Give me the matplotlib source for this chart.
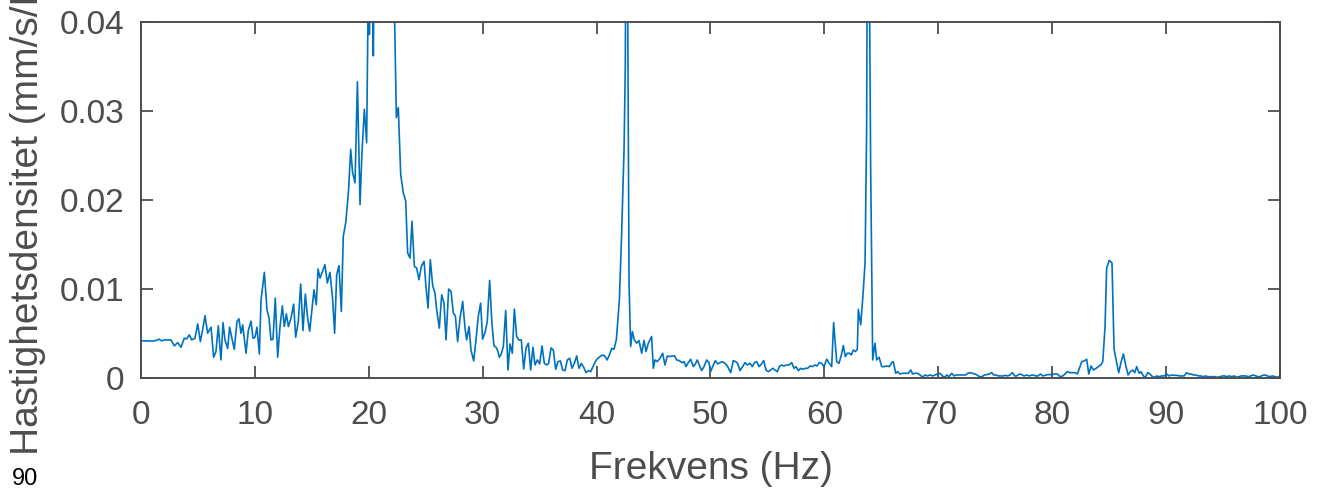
import numpy as np
import matplotlib.pyplot as plt
import matplotlib as mp

# spectrum (Hz, mm/s/Hz); points above 0.04 are clipped by the axes
freq_hz = [
    0.00, 0.40, 0.80, 1.17, 1.46, 1.61, 1.81, 2.05, 2.63, 2.93, 3.22, 3.51, 3.80, 4.01, 4.24, 4.45,
    4.74, 4.98, 5.21, 5.41, 5.62, 5.85, 6.15, 6.38, 6.58, 6.79, 7.02, 7.20, 7.37, 7.61, 7.78, 7.96,
    8.19, 8.43, 8.60, 8.78, 8.93, 9.22, 9.42, 9.66, 9.83, 10.01, 10.18, 10.39, 10.54, 10.83, 11.06,
    11.24, 11.41, 11.59, 11.79, 12.00, 12.20, 12.41, 12.58, 12.76, 12.94, 13.17, 13.40, 13.58, 13.81,
    14.02, 14.22, 14.43, 14.63, 14.81, 15.01, 15.19, 15.39, 15.54,
    15.72, 16.15, 16.36, 16.59, 16.83, 17.00, 17.18, 17.38, 17.59, 17.76, 17.97, 18.21, 18.41, 18.58,
    18.79, 19.00, 19.23, 19.40, 19.61, 19.81,
    19.97, 20.05, 20.20, 20.40, 20.60, 20.80, 21.00, 21.20, 21.40, 21.60, 21.80, 22.00, 22.20,
    22.42, 22.59, 22.80, 23.03, 23.24, 23.41, 23.62, 23.79, 24.00, 24.20, 24.41, 24.61, 24.85, 25.02,
    25.20, 25.40, 25.61, 25.81, 25.96, 26.19, 26.40, 26.60, 26.78, 27.01, 27.22, 27.42, 27.60, 27.80,
    28.01, 28.24, 28.45, 28.59, 28.80, 28.97, 29.21, 29.41, 29.61, 29.82, 29.99, 30.23, 30.40, 30.61,
    30.81, 30.99, 31.17, 31.34, 31.46, 31.63, 31.81, 32.02, 32.22, 32.40, 32.60, 32.78, 32.98, 33.16,
    33.39, 33.60, 33.80, 34.01, 34.21, 34.41, 34.59, 34.80, 35.00, 35.21, 35.41, 35.62, 35.79, 36.00,
    36.20, 36.41, 36.61, 36.82, 37.02, 37.23, 37.43, 37.64, 37.84, 38.05, 38.25, 38.46, 38.66, 38.87,
    39.07, 39.28, 39.48, 39.69, 39.89, 40.10, 40.30, 40.51, 40.71, 40.92, 41.12, 41.33, 41.53, 41.74,
    42.00, 42.20, 42.41, 42.52, 42.62, 42.70, 42.85, 42.99, 43.14, 43.31, 43.52, 43.72,
    43.96, 44.16, 44.34, 44.54, 44.83, 44.98, 45.13, 45.33, 45.57, 45.80, 46.00, 46.21, 46.44, 46.65,
    46.85, 47.03, 47.26, 47.50, 47.67, 47.85, 48.05, 48.26, 48.49, 48.67, 48.84, 49.02, 49.22, 49.43,
    49.66, 49.87, 50.01, 50.25, 50.42, 50.63, 50.83, 51.04, 51.27, 51.48, 51.77, 52.00, 52.21, 52.38,
    52.59, 52.82, 53.03, 53.23, 53.47, 53.67, 53.85, 54.05, 54.26, 54.46, 54.67, 54.87, 55.08, 55.28,
    55.46, 55.66, 55.87, 56.04, 56.25, 56.45, 56.69, 56.89, 57.13, 57.33, 57.51, 57.71, 57.92, 58.12,
    58.33, 58.53, 58.74, 58.94, 59.15, 59.35, 59.56, 59.76, 59.96, 60.20, 60.43, 60.64, 60.81, 61.08,
    61.28, 61.49, 61.66, 61.84, 62.01, 62.19, 62.36, 62.54, 62.72, 62.89,
    62.98, 63.19, 63.38, 63.57, 63.71, 63.82, 63.95, 64.06, 64.24, 64.44, 64.59, 64.80, 65.03, 65.26,
    65.47, 65.70, 65.91, 66.05, 66.26, 66.43, 66.64, 66.84, 67.08, 67.37, 67.58, 67.75, 67.96, 68.16,
    68.40, 68.63, 68.83, 69.04, 69.27, 69.51, 69.71, 69.92, 70.15, 70.36, 70.56, 70.74, 70.94, 71.18,
    71.38, 71.56, 71.76, 71.97, 72.20, 72.41, 72.58, 72.79, 72.99, 73.20, 73.40, 73.61, 73.84, 74.04,
    74.25, 74.48, 74.69, 74.86, 75.07, 75.27, 75.48, 75.71, 75.89, 76.09, 76.30, 76.50, 76.71, 76.88,
    77.12, 77.32, 77.53, 77.76, 77.97, 78.14, 78.35, 78.55, 78.76, 78.96, 79.17, 79.37, 79.58, 79.81,
    80.01, 80.25, 80.45,
    80.69, 80.92, 81.13, 81.33, 81.57, 81.80, 82.01, 82.21, 82.39, 82.59, 82.80, 83.03, 83.21, 83.41,
    83.62, 83.85, 84.06, 84.26, 84.44, 84.64, 84.78, 85.01, 85.25, 85.43, 85.67, 85.84, 86.02, 86.25,
    86.45, 86.66, 86.86, 87.07, 87.25, 87.42, 87.63, 87.80, 88.01, 88.18, 88.39, 88.59, 88.80, 89.00,
    89.18, 89.38, 89.62, 89.82, 90.06, 90.26, 90.49, 90.70, 90.93, 91.17, 91.37, 91.58, 91.81, 92.02,
    92.22, 92.40, 92.63, 92.84, 93.04, 93.27, 93.48, 93.65, 93.86, 94.06, 94.30, 94.50, 94.74, 94.94,
    95.15, 95.32, 95.56, 95.76, 95.97, 96.20, 96.41, 96.58, 96.79, 96.99, 97.20, 97.43, 97.66, 97.87,
    98.07, 98.25, 98.48, 98.69, 98.89, 99.13, 99.33, 99.57, 99.77, 100.00,
]
velocity_density = [
    0.00417, 0.00417, 0.00415, 0.00417, 0.00428, 0.00436, 0.00417, 0.00428, 0.00428, 0.00361, 0.00398,
    0.00346, 0.00447, 0.00439, 0.00485, 0.00428, 0.00447, 0.00608, 0.00409, 0.00541, 0.00699, 0.00503,
    0.00571, 0.00233, 0.00297, 0.00586, 0.00203, 0.00623, 0.00428, 0.00331, 0.00571, 0.00458, 0.00323,
    0.00635, 0.00665, 0.00503, 0.00597, 0.00278, 0.00533, 0.00638, 0.00447, 0.00458, 0.00571, 0.00270,
    0.00879, 0.01187, 0.00766, 0.00672, 0.00428, 0.00436, 0.00898, 0.00233, 0.00571, 0.00811, 0.00578,
    0.00721, 0.00578, 0.00672, 0.00830, 0.00458, 0.00635, 0.01055, 0.00533, 0.00943, 0.00672, 0.00526,
    0.00766, 0.00992, 0.00823, 0.01224,
    0.01123, 0.01273, 0.01067, 0.01187, 0.00879, 0.00503, 0.01161, 0.01262, 0.00747, 0.01592, 0.01743,
    0.02081, 0.02569, 0.02306, 0.02193, 0.03328, 0.01949, 0.02531, 0.03020, 0.02644,
    0.04600, 0.03860, 0.05000, 0.03620, 0.06500, 0.08000, 0.09000, 0.08500, 0.08000, 0.07000, 0.06000,
    0.05500, 0.04500,
    0.02926, 0.03039, 0.02287, 0.02081, 0.01987, 0.01405, 0.01348, 0.01761, 0.01254, 0.01236, 0.01104,
    0.01254, 0.01311, 0.01029, 0.00785, 0.01330, 0.01037, 0.00954, 0.00766, 0.00560, 0.00935, 0.00841,
    0.00428, 0.00999, 0.00973, 0.00729, 0.00699, 0.00409,
    0.00672, 0.00860, 0.00560, 0.00428, 0.00578, 0.00315, 0.00192, 0.00428, 0.00691, 0.00841, 0.00436,
    0.00522, 0.00635, 0.01097, 0.00616, 0.00361, 0.00346, 0.00297, 0.00233, 0.00270, 0.00353, 0.00759,
    0.00090, 0.00383, 0.00278, 0.00774, 0.00466, 0.00428, 0.00428, 0.00101, 0.00334, 0.00391, 0.00090,
    0.00346, 0.00146, 0.00203, 0.00158, 0.00361, 0.00165, 0.00146, 0.00165, 0.00338, 0.00315, 0.00098,
    0.00184, 0.00192, 0.00090, 0.00083, 0.00203, 0.00222, 0.00109, 0.00165, 0.00248, 0.00109, 0.00165,
    0.00120, 0.00060, 0.00083, 0.00071, 0.00128, 0.00184, 0.00222, 0.00240, 0.00259, 0.00248, 0.00203,
    0.00259, 0.00334, 0.00323, 0.00436,
    0.00879, 0.01630, 0.02569, 0.03508, 0.06500, 0.05000, 0.01050, 0.00353, 0.00522, 0.00428, 0.00391,
    0.00421,
    0.00278, 0.00421, 0.00297, 0.00391, 0.00466, 0.00109, 0.00203, 0.00184, 0.00222, 0.00278, 0.00146,
    0.00248, 0.00240, 0.00248, 0.00248, 0.00203, 0.00195, 0.00173, 0.00184, 0.00128, 0.00173, 0.00210,
    0.00128, 0.00158, 0.00203, 0.00146, 0.00083, 0.00128, 0.00203, 0.00173, 0.00071, 0.00146, 0.00195,
    0.00158, 0.00173, 0.00184, 0.00165, 0.00135, 0.00060, 0.00195, 0.00184, 0.00165, 0.00083, 0.00128,
    0.00173, 0.00146, 0.00165, 0.00128, 0.00173, 0.00184, 0.00128, 0.00154, 0.00195, 0.00090, 0.00071,
    0.00090, 0.00109, 0.00090, 0.00071, 0.00128, 0.00146, 0.00135, 0.00146, 0.00146, 0.00173, 0.00109,
    0.00128, 0.00083, 0.00109, 0.00098, 0.00109, 0.00109, 0.00135, 0.00128, 0.00146, 0.00135, 0.00173,
    0.00165, 0.00128, 0.00210, 0.00165, 0.00128, 0.00623, 0.00184, 0.00165, 0.00259, 0.00364, 0.00240,
    0.00278, 0.00278, 0.00259, 0.00315, 0.00297, 0.00323,
    0.00770, 0.00597, 0.00920, 0.01292, 0.02832, 0.07000, 0.04500, 0.02380, 0.00203, 0.00391, 0.00203,
    0.00233, 0.00128, 0.00128, 0.00135, 0.00128, 0.00173, 0.00184, 0.00053, 0.00071, 0.00045, 0.00053,
    0.00053, 0.00053, 0.00090, 0.00045, 0.00053, 0.00053, 0.00034, 0.00008, 0.00034, 0.00023, 0.00034,
    0.00023, 0.00034, 0.00045, 0.00053, 0.00023, 0.00008, 0.00034, 0.00015, 0.00053, 0.00023, 0.00034,
    0.00034, 0.00034, 0.00034, 0.00034, 0.00053, 0.00060, 0.00053, 0.00045, 0.00034, 0.00015, 0.00015,
    0.00034, 0.00038, 0.00045, 0.00060, 0.00034, 0.00034, 0.00023, 0.00023, 0.00023, 0.00030, 0.00023,
    0.00034, 0.00060, 0.00023, 0.00023, 0.00045, 0.00038, 0.00023, 0.00034, 0.00023, 0.00030, 0.00034,
    0.00023, 0.00023, 0.00045, 0.00023, 0.00030, 0.00038, 0.00038, 0.00038, 0.00045, 0.00045,
    0.00015, 0.00023, 0.00045, 0.00071, 0.00060, 0.00060, 0.00060, 0.00045, 0.00109, 0.00184, 0.00191,
    0.00210, 0.00045, 0.00135, 0.00090, 0.00109, 0.00128, 0.00146, 0.00184, 0.00578, 0.01236, 0.01322,
    0.01292, 0.00323, 0.00165, 0.00060, 0.00165, 0.00270, 0.00146, 0.00034, 0.00071, 0.00090, 0.00060,
    0.00128, 0.00053, 0.00071, 0.00023, 0.00008, 0.00060, 0.00045, 0.00015, 0.00008, 0.00023, 0.00015,
    0.00023, 0.00023, 0.00045, 0.00023, 0.00034, 0.00030, 0.00030, 0.00023, 0.00023, 0.00023, 0.00060,
    0.00045, 0.00045, 0.00034, 0.00034, 0.00023, 0.00023, 0.00015, 0.00023, 0.00015, 0.00015, 0.00015,
    0.00015, 0.00008, 0.00015, 0.00023, 0.00023, 0.00015, 0.00023, 0.00015, 0.00023, 0.00008, 0.00015,
    0.00023, 0.00023, 0.00023, 0.00015, 0.00023, 0.00034, 0.00023, 0.00015, 0.00015, 0.00030, 0.00034,
    0.00023, 0.00015, 0.00023, 0.00015, 0.00008, 0.00023,
]

xticks = [0, 10, 20, 30, 40, 50, 60, 70, 80, 90, 100]
yticks = [0, 0.01, 0.02, 0.03, 0.04]
ytick_labels = ['0', '0.01', '0.02', '0.03', '0.04']

axis_grey = '#4d4d4d'
mp.rc('font', family=['Liberation Sans', 'DejaVu Sans'], size=24)

fig = plt.figure(figsize=(13.26, 4.91), dpi=100)
ax = fig.add_axes([141 / 1326, 1 - 378 / 491, (1280 - 141) / 1326, (378 - 22) / 491])
ax.plot(freq_hz, velocity_density, color='#0072BD', lw=1.2)

ax.set_xlim(0, 100)
ax.set_ylim(0, 0.04)
ax.set_xticks(xticks)
ax.set_yticks(yticks)
ax.set_yticklabels(ytick_labels)
ax.tick_params(direction='in', length=8.5, width=1.3, colors=axis_grey,
               top=True, right=True, labelsize=24)
ax.tick_params(axis='x', pad=16)
ax.tick_params(axis='y', pad=12)
for s in ax.spines.values():
    s.set_linewidth(1.4)
    s.set_color(axis_grey)

# label is longer than the axes, so it runs off the top like the original
ax.set_xlabel('Frekvens (Hz)', fontsize=28, color=axis_grey)
ax.xaxis.set_label_coords(0.5, -0.205)
ax.set_ylabel('Hastighetsdensitet (mm/s/Hz)', fontsize=28, color=axis_grey)
ax.yaxis.set_label_coords(-0.083, 0.5)
fig.text(12 / 1326, 1 - 485 / 491, '90', fontsize=17, color='black')

plt.savefig('out.png', dpi=100)
